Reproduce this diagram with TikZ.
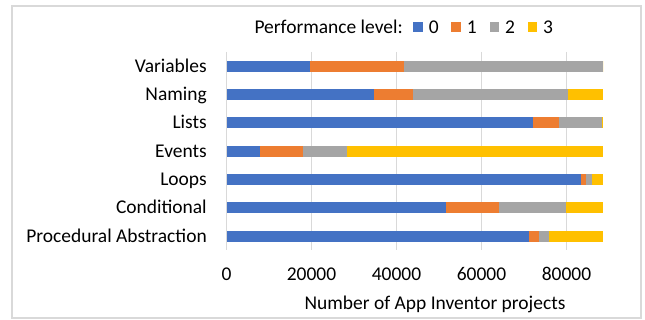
\documentclass[tikz,border=0pt]{standalone}
\usepackage{fontspec}
\setmainfont{Carlito}
\usetikzlibrary{positioning}
\definecolor{lvlzero}{HTML}{4472C4}
\definecolor{lvlone}{HTML}{ED7D31}
\definecolor{lvltwo}{HTML}{A5A5A5}
\definecolor{lvlthree}{HTML}{FFC000}
\definecolor{gridgray}{HTML}{D9D9D9}
\tikzset{
        x=0.75pt, y=-0.75pt, % one unit is one pixel of the reference
        every node/.style={inner sep=0pt, font=\fontsize{14.6}{17}\selectfont},
        catlabel/.style={anchor=base east},
        ticklabel/.style={anchor=base},
        legendbox/.style={minimum size=7pt},
        gridline/.style={draw=gridgray, line width=0.75pt},
        }

\begin{document}
\begin{tikzpicture}
        \useasboundingbox (0,0) rectangle (645,320);
        \draw[gridgray, line width=1.1pt] (12,6) rectangle (641,318);

        % gridlines and values
        \foreach \v [count=\j from 0] in {0,20000,40000,60000,80000}{
            \draw[gridline] (226.5+85*\j,52) -- (226.5+85*\j,250);
            \node[ticklabel] (tick\j) at (226.5+85*\j,280) {\v};
        }
        \node[anchor=base] (xtitle) at (435,309) {Number of App Inventor projects};

        % stacked bars, ends of levels 0,1,2 in thousands
        \foreach \cat/\za/\zb/\zc [count=\i from 0] in {
                Variables/19.6/41.7/88.66,
                Naming/34.7/43.9/80.4,
                Lists/72.0/78.3/88.3,
                Events/7.9/17.9/28.4,
                Loops/83.4/84.5/85.9,
                Conditional/51.6/64.0/79.9,
                Procedural Abstraction/71.2/73.5/75.9}{
            \pgfmathsetmacro{\yc}{66.2+28.33*\i}
            \node[catlabel] (cat\i) at (207,\yc+5.9) {\cat};
            \fill[lvlzero] (226.5,\yc-5.5) rectangle (226.5+4.25*\za,\yc+5.5);
            \fill[lvlone] (226.5+4.25*\za,\yc-5.5) rectangle (226.5+4.25*\zb,\yc+5.5);
            \fill[lvltwo] (226.5+4.25*\zb,\yc-5.5) rectangle (226.5+4.25*\zc,\yc+5.5);
            \fill[lvlthree] (226.5+4.25*\zc,\yc-5.5) rectangle (603.3,\yc+5.5);
        }

        % legend
        \node[anchor=base east] (lgtitle) at (403,33.5) {Performance level:};
        \node[legendbox, fill=lvlzero] (box0) at (418,27) {};
        \node[right=4.2pt of box0] (lg0) {0};
        \node[legendbox, fill=lvlone, right=9.2pt of lg0] (box1) {};
        \node[right=4.2pt of box1] (lg1) {1};
        \node[legendbox, fill=lvltwo, right=9.2pt of lg1] (box2) {};
        \node[right=4.2pt of box2] (lg2) {2};
        \node[legendbox, fill=lvlthree, right=9.2pt of lg2] (box3) {};
        \node[right=4.2pt of box3] (lg3) {3};
\end{tikzpicture}
\end{document}
